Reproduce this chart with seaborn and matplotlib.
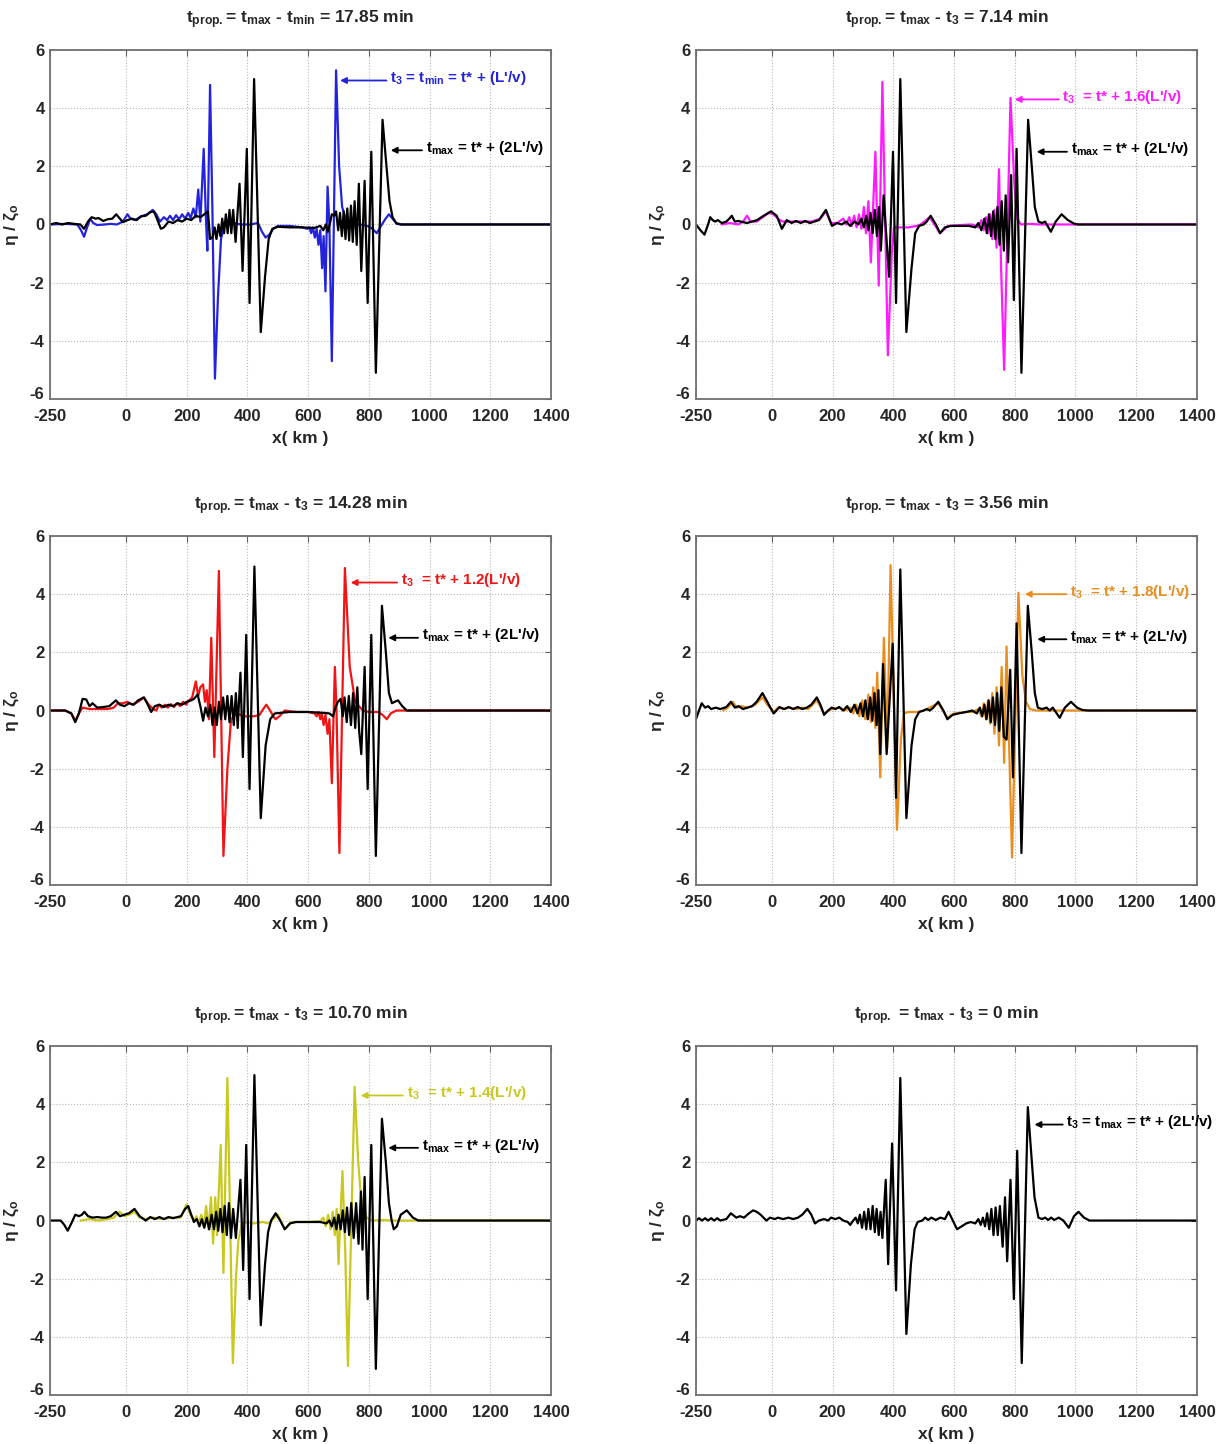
"""
Free-surface profiles eta/zeta0 along x at t_max (black) vs earlier t_3 (colour).
Six panels, 3 rows x 2 columns, MATLAB-like look.
"""

import pandas as pd
import matplotlib
matplotlib.use("Agg")
import matplotlib.pyplot as plt
from matplotlib.transforms import ScaledTranslation
import seaborn as sns

sns.set_style("white")
plt.rcParams.update({
    "font.family": ["Liberation Sans Narrow", "Liberation Sans", "DejaVu Sans"],
    "font.weight": "bold",
    "axes.titleweight": "bold",
    "axes.labelweight": "bold",
    "axes.unicode_minus": False,
    "mathtext.default": "regular",
})

# ---------------------------------------------------------------- data
# (x km, eta/zeta0) vertices

# panel 1 : t_prop = 17.85 min
black_1785 = [
    (-250, 0.0), (-230, 0.05), (-210, 0.0), (-190, 0.05), (-170, 0.02), (-150, 0.0),
    (-138, -0.15), (-125, 0.1), (-113, 0.25), (-100, 0.2), (-90, 0.22), (-75, 0.12),
    (-60, 0.18), (-45, 0.2), (-32, 0.35), (-20, 0.2), (-10, 0.08), (5, 0.15), (20, 0.2),
    (35, 0.15), (50, 0.28), (65, 0.3), (80, 0.42), (92, 0.45), (102, 0.2), (115, -0.15),
    (125, -0.1), (140, 0.1), (155, 0.05), (170, 0.15), (185, 0.1), (200, 0.2), (215, 0.15),
    (230, 0.3), (245, 0.25), (258, 0.35), (270, 0.45), (277, -0.5), (285, -0.45), (292, -0.1),
    (298, -0.5), (305, 0.0), (311, -0.4), (317, 0.2), (323, -0.3), (329, 0.35), (335, -0.3),
    (341, 0.5), (347, -0.3), (353, 0.5), (361, -0.6), (374, 1.4), (384, -1.6), (398, 2.6),
    (407, -2.7), (422, 5.0), (444, -3.7), (458, -1.8), (470, -0.5), (482, -0.15), (500, -0.08),
    (540, -0.1), (580, -0.1), (620, -0.12), (640, -0.05), (650, -0.2), (658, 0.0), (665, -0.25),
    (672, 0.05), (678, 0.35), (686, 0.3), (692, 0.45), (699, -0.2), (705, 0.4), (711, -0.4),
    (717, 0.45), (723, -0.5), (729, 0.55), (735, -0.55), (741, 0.65), (747, -0.6), (753, 0.8),
    (760, -0.7), (767, 1.4), (775, -1.6), (786, 1.5), (796, -2.7), (808, 2.5), (823, -5.1),
    (845, 3.6), (858, 2.0), (868, 0.8), (878, 0.25), (890, 0.05), (905, 0.0), (1400, 0.0),
]
blue_1785 = [
    (-250, 0.0), (-200, 0.02), (-160, 0.0), (-148, -0.2), (-138, -0.42), (-128, -0.1),
    (-118, 0.2), (-108, 0.05), (-95, -0.02), (-70, 0.0), (-50, 0.02), (-30, 0.0), (-10, 0.1),
    (5, 0.35), (15, 0.2), (30, 0.15), (50, 0.28), (70, 0.35), (88, 0.5), (100, 0.35),
    (112, 0.1), (125, 0.25), (135, 0.15), (145, 0.3), (155, 0.15), (165, 0.32), (175, 0.18),
    (185, 0.35), (195, 0.2), (205, 0.4), (213, 0.22), (222, 0.55), (230, 0.25), (238, 1.2),
    (245, 0.1), (256, 2.6), (263, 0.3), (268, -0.9), (277, 4.8), (285, 0.3), (293, -5.3),
    (303, -2.5), (313, -0.5), (325, 0.0), (350, 0.05), (380, 0.0), (410, 0.0), (435, 0.05),
    (448, -0.25), (460, -0.45), (472, -0.35), (485, -0.15), (500, -0.05), (540, -0.05),
    (580, -0.1), (598, -0.15), (604, -0.1), (610, -0.3), (616, -0.1), (622, -0.45),
    (628, -0.15), (634, -0.7), (640, -0.2), (646, -1.5), (651, -0.4), (657, -2.3), (664, 1.3),
    (670, 0.0), (678, -4.7), (692, 5.3), (702, 2.0), (712, 0.6), (725, 0.15), (745, 0.05),
    (770, 0.0), (795, -0.05), (812, -0.15), (826, -0.3), (840, -0.05), (855, 0.2), (866, 0.35),
    (878, 0.2), (892, 0.02), (910, 0.0), (1400, 0.0),
]

# panel 2 : t_prop = 7.14 min
black_714 = [
    (-250, 0.0), (-235, -0.2), (-222, -0.35), (-210, 0.0), (-203, 0.25), (-195, 0.15),
    (-187, 0.1), (-178, 0.15), (-165, 0.05), (-150, 0.1), (-140, 0.2), (-132, 0.3),
    (-122, 0.1), (-110, 0.12), (-95, 0.08), (-82, 0.05), (-65, 0.1), (-49, 0.15), (-27, 0.3),
    (-3, 0.45), (16, 0.3), (33, -0.15), (49, 0.15), (65, 0.05), (80, 0.12), (95, 0.05),
    (110, 0.12), (125, 0.05), (140, 0.1), (155, 0.15), (178, 0.5), (198, -0.05), (215, 0.05),
    (230, 0.0), (245, 0.1), (258, -0.05), (272, 0.1), (285, 0.0), (295, 0.2), (303, -0.1),
    (311, 0.3), (318, -0.2), (325, 0.4), (332, -0.3), (339, 0.5), (346, -0.4), (353, 0.6),
    (359, -0.9), (368, 1.0), (386, -1.8), (399, 2.5), (409, -2.7), (423, 5.0), (443, -3.7),
    (460, -1.5), (472, -0.3), (485, -0.05), (500, 0.0), (510, 0.1), (523, 0.3), (540, 0.0),
    (554, -0.3), (570, -0.1), (590, -0.05), (620, -0.05), (650, -0.05), (670, -0.1),
    (680, 0.05), (690, -0.2), (700, 0.2), (708, -0.3), (715, 0.35), (722, -0.4), (729, 0.45),
    (736, -0.5), (743, 0.6), (750, -0.7), (757, 0.8), (764, -0.9), (770, 1.0), (778, -1.3),
    (788, 1.7), (797, -2.6), (806, 2.6), (822, -5.1), (844, 3.6), (856, 2.0), (866, 0.6),
    (878, 0.1), (890, 0.05), (900, 0.1), (908, -0.05), (919, -0.25), (935, 0.1), (954, 0.35),
    (975, 0.15), (997, 0.02), (1010, 0.0), (1400, 0.0),
]
magenta_714 = [
    (-165, 0.0), (-140, 0.05), (-110, 0.0), (-95, 0.1), (-82, 0.3), (-70, 0.1), (-50, 0.1),
    (-30, 0.25), (-10, 0.4), (5, 0.35), (20, 0.2), (35, 0.1), (55, 0.1), (90, 0.1),
    (130, 0.1), (160, 0.2), (178, 0.45), (195, 0.05), (215, 0.05), (235, 0.2), (245, 0.0),
    (255, 0.25), (263, -0.05), (271, 0.3), (279, -0.1), (287, 0.35), (295, -0.15), (303, 0.6),
    (310, -0.3), (318, 0.8), (326, -1.3), (341, 2.5), (352, -2.1), (364, 4.9), (382, -4.5),
    (395, -1.0), (402, -0.1), (420, -0.1), (450, -0.1), (478, -0.05), (490, 0.0), (520, 0.25),
    (554, -0.3), (580, -0.05), (620, -0.02), (660, 0.0), (680, -0.1), (690, 0.15), (698, -0.2),
    (705, 0.25), (712, -0.3), (719, 0.35), (726, -0.5), (733, 0.5), (740, -0.8), (748, 1.9),
    (755, -1.5), (765, -5.0), (786, 4.35), (798, 1.5), (808, 0.2), (820, 0.0), (850, 0.02),
    (880, 0.0), (1400, 0.0),
]

# panel 3 : t_prop = 14.28 min
black_1428 = [
    (-250, 0.0), (-200, 0.0), (-180, -0.1), (-167, -0.4), (-155, -0.1), (-143, 0.4),
    (-131, 0.38), (-120, 0.15), (-110, 0.25), (-95, 0.1), (-75, 0.12), (-55, 0.15), (-33, 0.35),
    (-20, 0.2), (-5, 0.15), (10, 0.25), (25, 0.2), (40, 0.35), (59, 0.45), (72, 0.2),
    (83, -0.05), (95, 0.15), (110, 0.2), (125, 0.12), (140, 0.2), (155, 0.15), (170, 0.25),
    (185, 0.2), (200, 0.3), (215, 0.35), (224, 0.4), (236, 0.55), (246, 0.1), (254, -0.35),
    (262, 0.1), (270, -0.2), (278, 0.2), (285, -0.5), (292, 0.1), (299, -0.5), (306, 0.3),
    (313, -0.3), (320, 0.45), (327, -0.3), (334, 0.5), (341, -0.4), (348, 0.5), (355, -0.5),
    (362, 0.6), (368, -0.6), (377, 1.3), (385, -1.6), (396, 2.6), (407, -2.7), (423, 4.95),
    (444, -3.7), (460, -1.2), (475, -0.3), (490, -0.1), (540, -0.05), (600, -0.05),
    (650, -0.08), (670, -0.1), (682, -0.2), (690, 0.1), (698, 0.3), (707, 0.4), (714, -0.2),
    (720, 0.45), (727, -0.4), (734, 0.5), (741, -0.5), (748, 0.6), (755, -0.6), (762, 0.8),
    (768, -0.7), (775, -1.5), (786, 1.5), (796, -2.7), (808, 2.6), (823, -5.0), (843, 3.6),
    (856, 2.0), (866, 0.6), (876, 0.25), (885, 0.3), (896, 0.35), (910, 0.15), (925, 0.0),
    (1400, 0.0),
]
red_1428 = [
    (-250, 0.0), (-200, 0.0), (-180, -0.1), (-167, -0.35), (-155, -0.1), (-143, 0.1),
    (-120, 0.05), (-90, 0.05), (-60, 0.05), (-40, 0.1), (-27, 0.25), (-10, 0.25), (4, 0.3),
    (22, 0.2), (40, 0.3), (59, 0.45), (75, 0.2), (90, 0.05), (100, 0.0), (108, 0.2),
    (118, 0.1), (128, 0.2), (138, 0.1), (148, 0.22), (158, 0.12), (168, 0.25), (178, 0.15),
    (188, 0.3), (198, 0.2), (208, 0.35), (218, 0.45), (230, 1.0), (238, 0.5), (245, 0.8),
    (254, 0.9), (260, 0.3), (266, 0.7), (273, -0.3), (281, 2.5), (291, -1.6), (306, 4.8),
    (321, -5.0), (334, -2.0), (346, -0.3), (364, -0.1), (390, -0.2), (420, -0.2),
    (440, -0.15), (452, 0.05), (462, 0.2), (475, 0.0), (485, -0.2), (493, -0.3), (505, -0.2),
    (523, 0.0), (560, -0.05), (600, -0.05), (621, -0.1), (628, -0.2), (634, -0.05),
    (640, -0.3), (645, -0.1), (651, -0.5), (657, -0.15), (664, -0.8), (670, -0.3),
    (678, -2.5), (688, 1.5), (693, 0.2), (703, -4.9), (721, 4.9), (737, 1.5), (755, 0.3),
    (780, 0.0), (800, -0.05), (830, -0.05), (845, -0.15), (859, -0.3), (872, -0.1), (890, 0.0),
    (1400, 0.0),
]

# panel 4 : t_prop = 3.56 min
black_356 = [
    (-250, -0.3), (-240, 0.0), (-231, 0.25), (-220, 0.1), (-210, 0.15), (-200, 0.05),
    (-185, 0.1), (-170, 0.05), (-150, 0.12), (-135, 0.3), (-122, 0.1), (-110, 0.15),
    (-95, 0.05), (-80, 0.1), (-65, 0.15), (-50, 0.3), (-31, 0.6), (-15, 0.3), (-5, 0.1),
    (6, -0.1), (15, 0.0), (25, 0.12), (40, 0.05), (55, 0.12), (70, 0.05), (85, 0.12),
    (100, 0.05), (115, 0.1), (130, 0.2), (148, 0.45), (160, 0.2), (172, -0.15), (185, 0.0),
    (197, 0.1), (210, 0.05), (222, 0.12), (235, 0.0), (248, 0.15), (260, -0.05), (272, 0.2),
    (282, -0.1), (292, 0.25), (300, -0.2), (308, 0.35), (316, -0.3), (324, 0.45), (331, -0.35),
    (338, 0.6), (345, -0.5), (351, 0.7), (357, -1.5), (366, 1.6), (378, -1.5), (398, 2.3),
    (409, -3.0), (423, 4.85), (443, -3.7), (460, -1.2), (472, -0.3), (485, -0.05), (500, 0.0),
    (510, 0.05), (520, 0.0), (530, 0.08), (548, 0.3), (565, 0.0), (578, -0.3), (595, -0.15),
    (615, -0.1), (640, -0.05), (660, 0.0), (675, -0.1), (685, 0.1), (693, -0.2), (700, 0.2),
    (707, -0.3), (714, 0.35), (721, -0.4), (728, 0.45), (735, -0.5), (742, 0.6), (749, -0.7),
    (756, 0.8), (764, -0.9), (773, -1.0), (785, 1.4), (794, -2.3), (806, 3.0), (822, -4.9),
    (843, 3.6), (856, 2.0), (866, 0.6), (876, 0.1), (890, 0.05), (905, 0.1), (915, 0.0),
    (925, 0.1), (935, -0.05), (948, -0.25), (965, 0.1), (985, 0.3), (1005, 0.1), (1022, 0.02),
    (1040, 0.0), (1400, 0.0),
]
orange_356 = [
    (-160, 0.0), (-145, 0.1), (-129, 0.3), (-115, 0.1), (-100, 0.15), (-80, 0.1), (-55, 0.2),
    (-31, 0.45), (-15, 0.2), (6, -0.05), (20, 0.1), (40, 0.05), (60, 0.1), (80, 0.05),
    (100, 0.1), (120, 0.05), (148, 0.35), (172, -0.1), (197, 0.05), (220, 0.1), (240, 0.0),
    (258, 0.1), (268, -0.1), (278, 0.2), (288, -0.2), (298, 0.35), (308, -0.3), (318, 0.55),
    (326, -0.4), (334, 0.8), (341, -0.6), (347, 1.3), (357, -2.3), (369, 2.5), (380, -1.3),
    (391, 5.0), (412, -4.1), (425, -1.0), (435, -0.1), (450, -0.05), (480, -0.05), (500, 0.0),
    (548, 0.25), (578, -0.25), (600, -0.1), (640, -0.05), (660, -0.05), (680, 0.05),
    (690, -0.2), (698, 0.25), (705, -0.3), (712, 0.35), (719, -0.45), (726, 0.6), (733, -0.8),
    (740, 0.8), (748, -1.2), (757, 1.5), (765, -1.8), (773, 2.2), (791, -5.05), (812, 4.05),
    (825, 1.2), (837, 0.3), (850, 0.05), (870, 0.0), (1400, 0.0),
]

# panel 5 : t_prop = 10.70 min
black_1070 = [
    (-250, 0.0), (-215, 0.0), (-203, -0.15), (-192, -0.35), (-180, -0.1), (-167, 0.2),
    (-155, 0.15), (-145, 0.2), (-137, 0.3), (-125, 0.15), (-110, 0.1), (-95, 0.12),
    (-80, 0.1), (-65, 0.1), (-50, 0.15), (-33, 0.3), (-20, 0.15), (-5, 0.2), (10, 0.25),
    (28, 0.4), (45, 0.15), (65, 0.0), (80, 0.12), (95, 0.05), (110, 0.12), (125, 0.05),
    (140, 0.12), (155, 0.08), (170, 0.12), (181, 0.15), (195, 0.4), (205, 0.5), (215, 0.2),
    (224, -0.05), (233, 0.05), (242, -0.2), (250, 0.05), (258, -0.25), (266, 0.1), (274, -0.3),
    (282, 0.2), (290, -0.3), (297, 0.3), (304, -0.35), (311, 0.4), (318, -0.4), (325, 0.5),
    (332, -0.5), (339, 0.6), (346, -0.6), (353, 0.4), (362, -0.6), (377, 1.4), (386, -1.7),
    (396, 2.6), (407, -2.7), (423, 5.0), (444, -3.6), (458, -1.5), (468, -0.4), (478, 0.0),
    (493, 0.25), (508, 0.0), (523, -0.3), (540, -0.1), (560, -0.05), (600, -0.05),
    (640, -0.05), (660, -0.1), (670, 0.0), (678, -0.2), (686, 0.1), (693, -0.3), (700, 0.2),
    (707, -0.3), (714, 0.35), (721, -0.4), (728, 0.45), (735, -0.5), (742, 0.6), (750, -0.6),
    (758, 0.6), (766, -0.8), (774, 1.0), (779, -1.0), (786, 1.5), (796, -2.7), (808, 2.6),
    (823, -5.1), (843, 3.5), (856, 2.0), (866, 0.6), (875, 0.0), (882, -0.3), (892, -0.2),
    (905, 0.2), (925, 0.35), (945, 0.1), (963, 0.0), (1400, 0.0),
]
yellow_1070 = [
    (-150, 0.0), (-120, 0.05), (-90, 0.0), (-60, 0.05), (-40, 0.1), (-21, 0.3), (-5, 0.15),
    (10, 0.2), (28, 0.3), (45, 0.1), (65, 0.05), (90, 0.1), (120, 0.05), (150, 0.1),
    (180, 0.1), (199, 0.55), (212, 0.2), (224, 0.0), (232, 0.15), (240, -0.1), (248, 0.2),
    (256, -0.2), (264, 0.5), (272, -0.3), (280, 0.8), (287, -0.8), (294, 0.8), (300, -0.5),
    (312, 2.6), (321, -1.8), (334, 4.9), (352, -4.9), (362, -2.0), (370, -0.7), (382, -0.1),
    (400, -0.05), (420, -0.1), (450, -0.05), (470, -0.1), (480, 0.0), (500, 0.2), (523, -0.3),
    (545, -0.05), (600, -0.05), (640, -0.02), (650, 0.1), (658, -0.2), (666, 0.2), (674, -0.3),
    (681, 0.3), (688, -0.5), (694, 0.4), (700, -1.5), (713, 1.7), (722, -1.0), (731, -5.0),
    (753, 4.6), (765, 2.0), (774, 0.8), (792, 0.1), (810, 0.0), (850, 0.02), (870, 0.0),
    (1400, 0.0),
]

# panel 6 : t_prop = 0 min
black_0 = [
    (-250, 0.0), (-240, 0.08), (-230, 0.0), (-220, 0.08), (-210, 0.0), (-200, 0.08),
    (-190, 0.0), (-180, 0.08), (-170, 0.0), (-150, 0.05), (-135, 0.25), (-117, 0.1),
    (-105, 0.15), (-92, 0.1), (-75, 0.25), (-62, 0.35), (-50, 0.3), (-37, 0.2), (-18, 0.0),
    (-6, 0.1), (10, 0.05), (20, 0.1), (37, 0.05), (55, 0.1), (70, 0.05), (86, 0.1),
    (100, 0.2), (117, 0.4), (130, 0.2), (142, -0.1), (155, 0.0), (172, 0.05), (185, 0.0),
    (195, 0.1), (209, 0.05), (222, 0.1), (235, 0.0), (250, -0.05), (258, -0.15), (268, 0.0),
    (276, 0.1), (283, -0.1), (290, 0.2), (297, -0.25), (304, 0.3), (311, -0.3), (318, 0.4),
    (325, -0.3), (332, 0.5), (339, -0.4), (345, 0.4), (352, -0.5), (358, 0.3), (364, -0.6),
    (375, 1.4), (383, -1.5), (396, 2.65), (409, -2.4), (423, 4.9), (443, -3.9), (458, -1.5),
    (470, -0.3), (480, -0.05), (495, 0.0), (505, 0.1), (515, 0.02), (525, 0.1), (540, 0.02),
    (555, 0.1), (570, 0.05), (582, 0.3), (596, 0.0), (610, -0.3), (625, -0.2), (640, -0.1),
    (655, -0.05), (670, -0.1), (680, 0.05), (688, -0.15), (695, 0.1), (702, -0.2), (709, 0.25),
    (716, -0.3), (723, 0.4), (730, -0.5), (737, 0.45), (744, -0.5), (751, 0.5), (760, -0.9),
    (768, 0.8), (775, -1.4), (786, 1.4), (797, -2.7), (808, 2.4), (823, -4.9), (843, 3.9),
    (855, 2.2), (865, 0.8), (878, 0.1), (890, 0.05), (900, 0.1), (910, 0.02), (920, 0.1),
    (930, 0.02), (945, 0.1), (960, 0.0), (978, -0.25), (995, 0.15), (1010, 0.3), (1028, 0.1),
    (1046, 0.0), (1400, 0.0),
]

TITLES = [
    "t$_{prop.}$= t$_{max}$ - t$_{min}$ = 17.85 min",
    "t$_{prop.}$= t$_{max}$ - t$_3$ = 7.14 min",
    "t$_{prop.}$= t$_{max}$ - t$_3$ = 14.28 min",
    "t$_{prop.}$= t$_{max}$ - t$_3$ = 3.56 min",
    "t$_{prop.}$= t$_{max}$ - t$_3$ = 10.70 min",
    "t$_{prop.}$ = t$_{max}$ - t$_3$ = 0 min",
]
LABELS_T3 = [
    "t$_3$ = t$_{min}$ = t* + (L'/v)",
    "t$_3$  = t* + 1.6(L'/v)",
    "t$_3$  = t* + 1.2(L'/v)",
    "t$_3$  = t* + 1.8(L'/v)",
    "t$_3$  = t* + 1.4(L'/v)",
    "t$_3$ = t$_{max}$ = t* + (2L'/v)",
]
LABEL_TMAX = "t$_{max}$ = t* + (2L'/v)"

X_TICKS = [-250, 0, 200, 400, 600, 800, 1000, 1200, 1400]
Y_TICKS = [-6, -4, -2, 0, 2, 4, 6]

# ---------------------------------------------------------------- layout
# panel -> (curves, colour of t3 curve, axes rect, arrow spots)
panels = [
    (black_1785, blue_1785, "#2323dc", [0.0408, 0.7237, 0.4083, 0.2417],
     (705, 858, 4.95), (872, 975, 2.55)),
    (black_714, magenta_714, "#ff1aff", [0.5672, 0.7237, 0.4083, 0.2417],
     (800, 945, 4.3), (872, 972, 2.5)),
    (black_1428, red_1428, "#f01414", [0.0408, 0.3871, 0.4083, 0.2417],
     (740, 893, 4.4), (864, 962, 2.5)),
    (black_356, orange_356, "#e88e1e", [0.5672, 0.3871, 0.4083, 0.2417],
     (833, 970, 4.0), (874, 970, 2.45)),
    (black_1070, yellow_1070, "#c8c81e", [0.0408, 0.0339, 0.4083, 0.2417],
     (773, 912, 4.3), (864, 962, 2.5)),
    (black_0, None, "black", [0.5672, 0.0339, 0.4083, 0.2417],
     (865, 958, 3.3), None),
]


def to_frame(points):
    return pd.DataFrame(points, columns=["x", "eta"])


def add_arrow(ax, spot, label, color):
    head, tail, y = spot
    ax.annotate("", xy=(head, y), xytext=(tail, y),
                arrowprops=dict(arrowstyle="-|>", color=color, lw=1.3,
                                mutation_scale=9, shrinkA=0, shrinkB=0))
    ax.text(tail + 12, y + 0.08, label, color=color, fontsize=11,
            ha="left", va="center")


fig = plt.figure(figsize=(12.27, 14.44), dpi=100)

for i, (blk, col, c, rect, spot3, spotmax) in enumerate(panels):
    ax = fig.add_axes(rect)
    if col is not None:
        sns.lineplot(data=to_frame(col), x="x", y="eta", ax=ax, color=c,
                     lw=1.6, sort=False, estimator=None)
    sns.lineplot(data=to_frame(blk), x="x", y="eta", ax=ax, color="black",
                 lw=1.6, sort=False, estimator=None)

    ax.set_xlim(-250, 1400)
    ax.set_ylim(-6, 6)
    ax.set_xticks(X_TICKS)
    ax.set_yticks(Y_TICKS)
    ax.tick_params(direction="in", length=4, top=True, right=True,
                   labelsize=12, color="#606060")
    ax.tick_params(axis="x", pad=7)
    ax.tick_params(axis="y", pad=4)
    ax.grid(True, ls=":", lw=0.8, color="#b8b8b8")
    for sp in ax.spines.values():
        sp.set_color("#707070")
        sp.set_linewidth(1.3)

    # MATLAB puts the -6 label just above the corner, clear of -250
    low = ax.get_yticklabels()[0]
    low.set_transform(low.get_transform()
                      + ScaledTranslation(0, 4 / 72, fig.dpi_scale_trans))

    ax.set_title(TITLES[i], fontsize=12.5, pad=19)
    ax.set_xlabel("x( km )", fontsize=12.5, labelpad=5)
    ax.set_ylabel("η / ζ$_o$", fontsize=12.5, labelpad=6)

    add_arrow(ax, spot3, LABELS_T3[i], c)
    if spotmax is not None:
        add_arrow(ax, spotmax, LABEL_TMAX, "black")

fig.savefig("out.png", dpi=100)
